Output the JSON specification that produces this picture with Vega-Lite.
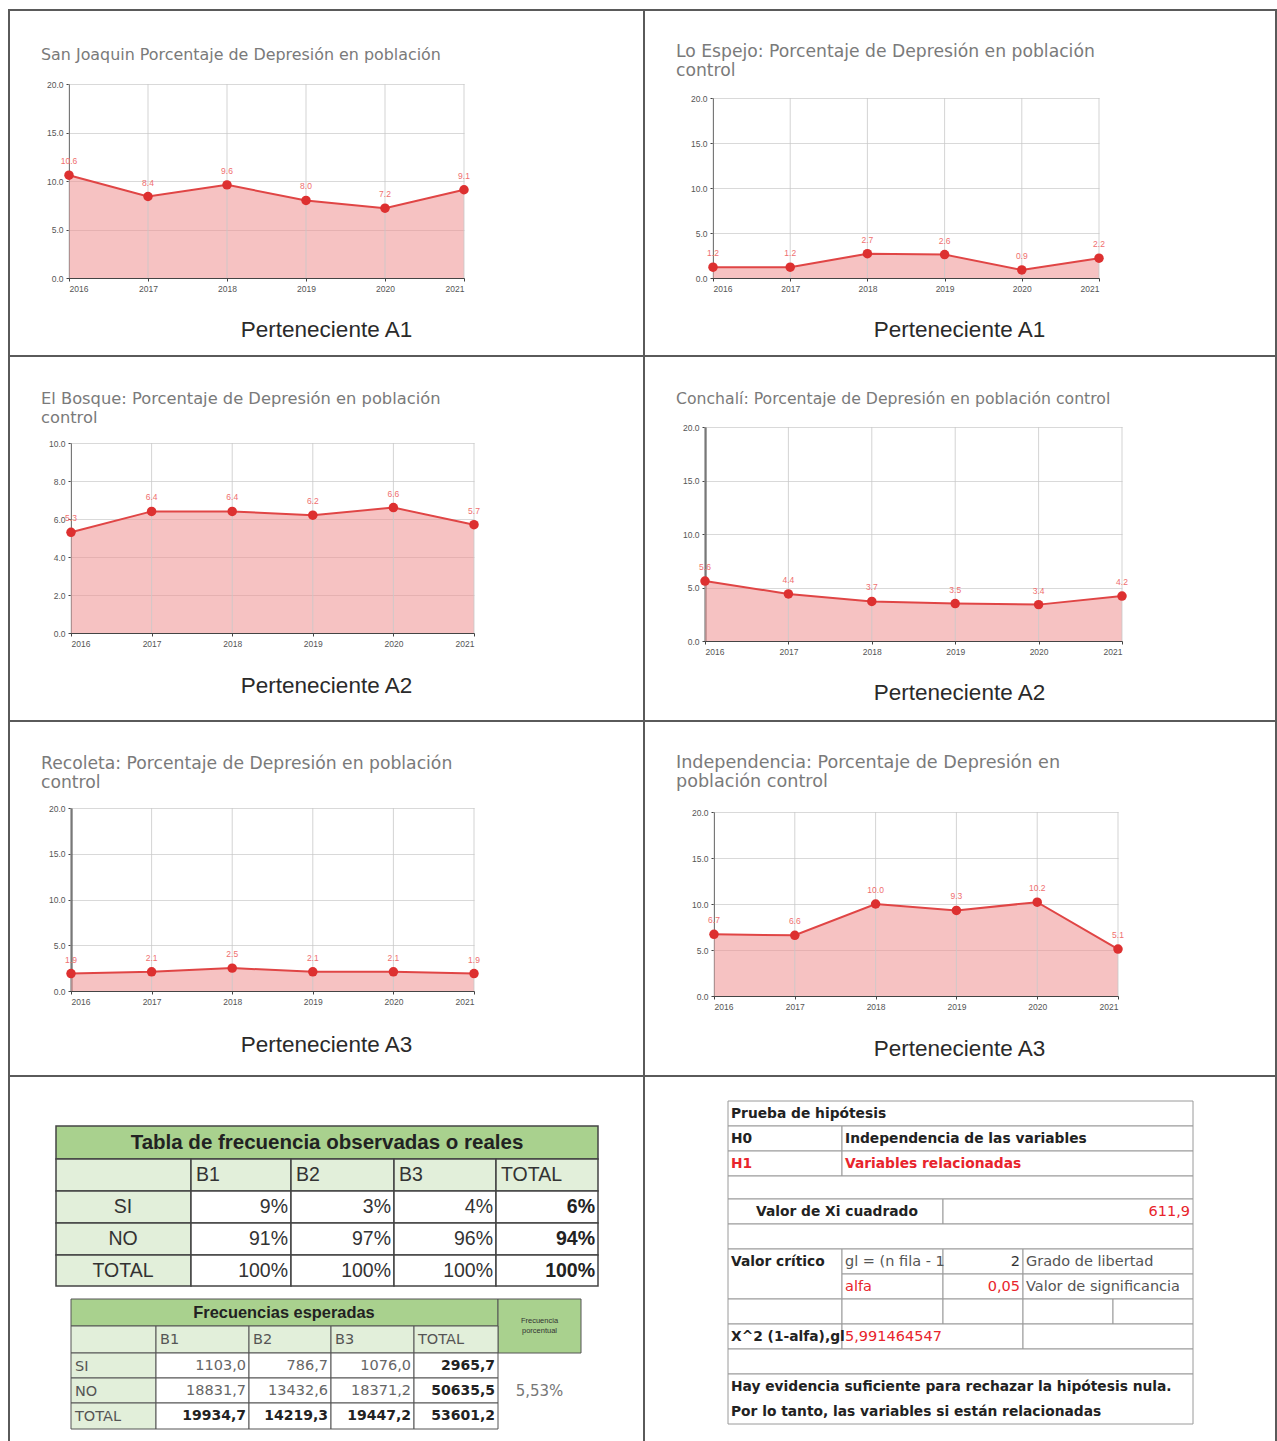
{
  "$schema": "https://vega.github.io/schema/vega-lite/v6.json",
  "background": "white",
  "padding": {"left": 8, "top": 9, "right": 0, "bottom": 0},
  "spacing": 0,
  "bounds": "flush",
  "columns": 2,
  "config": {
    "view": {"stroke": "#5a5a5a", "strokeWidth": 2},
    "axis": {"labelFont": "Liberation Sans", "labelFontSize": 8.5, "labelColor": "#555", "domainColor": "#444", "tickColor": "#444", "tickSize": 3, "gridColor": "#d9d9d9", "titleFont": "Liberation Sans"},
    "axisX": {"grid": false, "titleFontSize": 22.5, "titleFontWeight": "normal", "titleColor": "#2a2a2a", "titleAlign": "center", "titleBaseline": "middle", "labelPadding": 3},
    "axisY": {"grid": true, "labelPadding": 3},
    "title": {"font": "DejaVu Sans", "fontSize": 15.5, "fontWeight": "normal", "color": "#7a7a7a", "anchor": "start", "frame": "group", "lineHeight": 19}
  },
  "concat": [
    {
      "width": 635, "height": 346,
      "title": {"text": "San Joaquin Porcentaje de Depresión en población", "offset": -53, "dx": 32, "fontSize": 15.9},
      "data": {"values": [{"year": 2016, "pct": 10.6}, {"year": 2017, "pct": 8.4}, {"year": 2018, "pct": 9.6}, {"year": 2019, "pct": 8.0}, {"year": 2020, "pct": 7.2}, {"year": 2021, "pct": 9.1}]},
      "encoding": {
        "x": {"field": "year", "type": "quantitative", "scale": {"domain": [2016, 2021], "range": [60, 455], "nice": false, "zero": false},
              "axis": {"values": [2016, 2017, 2018, 2019, 2020, 2021], "format": "d", "offset": -78, "title": "Perteneciente A1", "titleX": 317, "titleY": 51}},
        "y": {"field": "pct", "type": "quantitative", "scale": {"domain": [0, 20], "range": [268, 74], "nice": false, "zero": false},
              "axis": {"values": [0, 5, 10, 15, 20], "format": ".1f", "offset": -60, "title": null}}
      },
      "layer": [
        {"mark": {"type": "area", "color": "#ef8f8f", "opacity": 0.55}},
        {"mark": {"type": "rule", "color": "#c8c8c8", "opacity": 0.8}, "encoding": {"y": {"datum": 0}, "y2": {"datum": 20}}},
        {"mark": {"type": "line", "color": "#e04545", "strokeWidth": 2}},
        {"mark": {"type": "point", "filled": true, "size": 90, "color": "#dd3030", "opacity": 1}},
        {"mark": {"type": "text", "dy": -14, "fontSize": 8.5, "color": "#ef6f6f", "font": "Liberation Sans"}, "encoding": {"text": {"field": "pct", "format": ".1f"}}}
      ]
    },
    {
      "width": 632, "height": 346,
      "title": {"text": ["Lo Espejo: Porcentaje de Depresión en población", "control"], "offset": -69, "dx": 32, "fontSize": 17.2},
      "data": {"values": [{"year": 2016, "pct": 1.2}, {"year": 2017, "pct": 1.2}, {"year": 2018, "pct": 2.7}, {"year": 2019, "pct": 2.6}, {"year": 2020, "pct": 0.9}, {"year": 2021, "pct": 2.2}]},
      "encoding": {
        "x": {"field": "year", "type": "quantitative", "scale": {"domain": [2016, 2021], "range": [69, 455], "nice": false, "zero": false},
              "axis": {"values": [2016, 2017, 2018, 2019, 2020, 2021], "format": "d", "offset": -78, "title": "Perteneciente A1", "titleX": 315, "titleY": 51}},
        "y": {"field": "pct", "type": "quantitative", "scale": {"domain": [0, 20], "range": [268, 88], "nice": false, "zero": false},
              "axis": {"values": [0, 5, 10, 15, 20], "format": ".1f", "offset": -69, "title": null}}
      },
      "layer": [
        {"mark": {"type": "area", "color": "#ef8f8f", "opacity": 0.55}},
        {"mark": {"type": "rule", "color": "#c8c8c8", "opacity": 0.8}, "encoding": {"y": {"datum": 0}, "y2": {"datum": 20}}},
        {"mark": {"type": "line", "color": "#e04545", "strokeWidth": 2}},
        {"mark": {"type": "point", "filled": true, "size": 90, "color": "#dd3030", "opacity": 1}},
        {"mark": {"type": "text", "dy": -14, "fontSize": 8.5, "color": "#ef6f6f", "font": "Liberation Sans"}, "encoding": {"text": {"field": "pct", "format": ".1f"}}}
      ]
    },
    {
      "width": 635, "height": 365,
      "title": {"text": ["El Bosque: Porcentaje de Depresión en población", "control"], "offset": -70, "dx": 32, "fontSize": 16.3},
      "data": {"values": [{"year": 2016, "pct": 5.3}, {"year": 2017, "pct": 6.4}, {"year": 2018, "pct": 6.4}, {"year": 2019, "pct": 6.2}, {"year": 2020, "pct": 6.6}, {"year": 2021, "pct": 5.7}]},
      "encoding": {
        "x": {"field": "year", "type": "quantitative", "scale": {"domain": [2016, 2021], "range": [62, 465], "nice": false, "zero": false},
              "axis": {"values": [2016, 2017, 2018, 2019, 2020, 2021], "format": "d", "offset": -88, "title": "Perteneciente A2", "titleX": 317, "titleY": 52}},
        "y": {"field": "pct", "type": "quantitative", "scale": {"domain": [0, 10], "range": [277, 87], "nice": false, "zero": false},
              "axis": {"values": [0, 2, 4, 6, 8, 10], "format": ".1f", "offset": -62, "title": null}}
      },
      "layer": [
        {"mark": {"type": "area", "color": "#ef8f8f", "opacity": 0.55}},
        {"mark": {"type": "rule", "color": "#c8c8c8", "opacity": 0.8}, "encoding": {"y": {"datum": 0}, "y2": {"datum": 10}}},
        {"mark": {"type": "line", "color": "#e04545", "strokeWidth": 2}},
        {"mark": {"type": "point", "filled": true, "size": 90, "color": "#dd3030", "opacity": 1}},
        {"mark": {"type": "text", "dy": -14, "fontSize": 8.5, "color": "#ef6f6f", "font": "Liberation Sans"}, "encoding": {"text": {"field": "pct", "format": ".1f"}}}
      ]
    },
    {
      "width": 632, "height": 365,
      "title": {"text": "Conchalí: Porcentaje de Depresión en población control", "offset": -52, "dx": 32, "fontSize": 15.7},
      "data": {"values": [{"year": 2016, "pct": 5.6}, {"year": 2017, "pct": 4.4}, {"year": 2018, "pct": 3.7}, {"year": 2019, "pct": 3.5}, {"year": 2020, "pct": 3.4}, {"year": 2021, "pct": 4.2}]},
      "encoding": {
        "x": {"field": "year", "type": "quantitative", "scale": {"domain": [2016, 2021], "range": [61, 478], "nice": false, "zero": false},
              "axis": {"values": [2016, 2017, 2018, 2019, 2020, 2021], "format": "d", "offset": -80, "title": "Perteneciente A2", "titleX": 315, "titleY": 51}},
        "y": {"field": "pct", "type": "quantitative", "scale": {"domain": [0, 20], "range": [285, 71], "nice": false, "zero": false},
              "axis": {"values": [0, 5, 10, 15, 20], "format": ".1f", "offset": -61, "title": null, "domainWidth": 2}}
      },
      "layer": [
        {"mark": {"type": "area", "color": "#ef8f8f", "opacity": 0.55}},
        {"mark": {"type": "rule", "color": "#c8c8c8", "opacity": 0.8}, "encoding": {"y": {"datum": 0}, "y2": {"datum": 20}}},
        {"mark": {"type": "line", "color": "#e04545", "strokeWidth": 2}},
        {"mark": {"type": "point", "filled": true, "size": 90, "color": "#dd3030", "opacity": 1}},
        {"mark": {"type": "text", "dy": -14, "fontSize": 8.5, "color": "#ef6f6f", "font": "Liberation Sans"}, "encoding": {"text": {"field": "pct", "format": ".1f"}}}
      ]
    },
    {
      "width": 635, "height": 355,
      "title": {"text": ["Recoleta: Porcentaje de Depresión en población", "control"], "offset": -70, "dx": 32, "fontSize": 17.2},
      "data": {"values": [{"year": 2016, "pct": 1.9}, {"year": 2017, "pct": 2.1}, {"year": 2018, "pct": 2.5}, {"year": 2019, "pct": 2.1}, {"year": 2020, "pct": 2.1}, {"year": 2021, "pct": 1.9}]},
      "encoding": {
        "x": {"field": "year", "type": "quantitative", "scale": {"domain": [2016, 2021], "range": [62, 465], "nice": false, "zero": false},
              "axis": {"values": [2016, 2017, 2018, 2019, 2020, 2021], "format": "d", "offset": -85, "title": "Perteneciente A3", "titleX": 317, "titleY": 53}},
        "y": {"field": "pct", "type": "quantitative", "scale": {"domain": [0, 20], "range": [270, 87], "nice": false, "zero": false},
              "axis": {"values": [0, 5, 10, 15, 20], "format": ".1f", "offset": -62, "title": null, "domainWidth": 2}}
      },
      "layer": [
        {"mark": {"type": "area", "color": "#ef8f8f", "opacity": 0.55}},
        {"mark": {"type": "rule", "color": "#c8c8c8", "opacity": 0.8}, "encoding": {"y": {"datum": 0}, "y2": {"datum": 20}}},
        {"mark": {"type": "line", "color": "#e04545", "strokeWidth": 2}},
        {"mark": {"type": "point", "filled": true, "size": 90, "color": "#dd3030", "opacity": 1}},
        {"mark": {"type": "text", "dy": -14, "fontSize": 8.5, "color": "#ef6f6f", "font": "Liberation Sans"}, "encoding": {"text": {"field": "pct", "format": ".1f"}}}
      ]
    },
    {
      "width": 632, "height": 355,
      "title": {"text": ["Independencia: Porcentaje de Depresión en", "población control"], "offset": -70, "dx": 32, "fontSize": 17.6},
      "data": {"values": [{"year": 2016, "pct": 6.7}, {"year": 2017, "pct": 6.6}, {"year": 2018, "pct": 10.0}, {"year": 2019, "pct": 9.3}, {"year": 2020, "pct": 10.2}, {"year": 2021, "pct": 5.1}]},
      "encoding": {
        "x": {"field": "year", "type": "quantitative", "scale": {"domain": [2016, 2021], "range": [70, 474], "nice": false, "zero": false},
              "axis": {"values": [2016, 2017, 2018, 2019, 2020, 2021], "format": "d", "offset": -80, "title": "Perteneciente A3", "titleX": 315, "titleY": 52}},
        "y": {"field": "pct", "type": "quantitative", "scale": {"domain": [0, 20], "range": [275, 91], "nice": false, "zero": false},
              "axis": {"values": [0, 5, 10, 15, 20], "format": ".1f", "offset": -70, "title": null}}
      },
      "layer": [
        {"mark": {"type": "area", "color": "#ef8f8f", "opacity": 0.55}},
        {"mark": {"type": "rule", "color": "#c8c8c8", "opacity": 0.8}, "encoding": {"y": {"datum": 0}, "y2": {"datum": 20}}},
        {"mark": {"type": "line", "color": "#e04545", "strokeWidth": 2}},
        {"mark": {"type": "point", "filled": true, "size": 90, "color": "#dd3030", "opacity": 1}},
        {"mark": {"type": "text", "dy": -14, "fontSize": 8.5, "color": "#ef6f6f", "font": "Liberation Sans"}, "encoding": {"text": {"field": "pct", "format": ".1f"}}}
      ]
    },
    {
      "width": 635, "height": 370,
      "resolve": {"scale": {"x": "independent", "y": "independent"}},
      "layer": [
        {
          "data": {"values": [
            {"r0": 0, "r1": 1, "c0": 0, "c1": 5, "text": "Tabla de frecuencia observadas o reales", "kind": "title"},
            {"r0": 1, "r1": 2, "c0": 0, "c1": 1, "text": "", "kind": "colhead"},
            {"r0": 1, "r1": 2, "c0": 1, "c1": 2, "text": "B1", "kind": "colhead"},
            {"r0": 1, "r1": 2, "c0": 2, "c1": 3, "text": "B2", "kind": "colhead"},
            {"r0": 1, "r1": 2, "c0": 3, "c1": 4, "text": "B3", "kind": "colhead"},
            {"r0": 1, "r1": 2, "c0": 4, "c1": 5, "text": "TOTAL", "kind": "colhead"},
            {"r0": 2, "r1": 3, "c0": 0, "c1": 1, "text": "SI", "kind": "rowhead"},
            {"r0": 2, "r1": 3, "c0": 1, "c1": 2, "text": "9%", "kind": "value"},
            {"r0": 2, "r1": 3, "c0": 2, "c1": 3, "text": "3%", "kind": "value"},
            {"r0": 2, "r1": 3, "c0": 3, "c1": 4, "text": "4%", "kind": "value"},
            {"r0": 2, "r1": 3, "c0": 4, "c1": 5, "text": "6%", "kind": "total"},
            {"r0": 3, "r1": 4, "c0": 0, "c1": 1, "text": "NO", "kind": "rowhead"},
            {"r0": 3, "r1": 4, "c0": 1, "c1": 2, "text": "91%", "kind": "value"},
            {"r0": 3, "r1": 4, "c0": 2, "c1": 3, "text": "97%", "kind": "value"},
            {"r0": 3, "r1": 4, "c0": 3, "c1": 4, "text": "96%", "kind": "value"},
            {"r0": 3, "r1": 4, "c0": 4, "c1": 5, "text": "94%", "kind": "total"},
            {"r0": 4, "r1": 5, "c0": 0, "c1": 1, "text": "TOTAL", "kind": "rowhead"},
            {"r0": 4, "r1": 5, "c0": 1, "c1": 2, "text": "100%", "kind": "value"},
            {"r0": 4, "r1": 5, "c0": 2, "c1": 3, "text": "100%", "kind": "value"},
            {"r0": 4, "r1": 5, "c0": 3, "c1": 4, "text": "100%", "kind": "value"},
            {"r0": 4, "r1": 5, "c0": 4, "c1": 5, "text": "100%", "kind": "total"}
          ]},
          "encoding": {
            "x": {"field": "c0", "type": "quantitative", "scale": {"domain": [0, 1, 2, 3, 4, 5], "range": [47, 182, 282, 385, 487, 589], "nice": false, "zero": false}, "axis": null},
            "y": {"field": "r0", "type": "quantitative", "scale": {"domain": [0, 1, 2, 3, 4, 5], "range": [50, 83, 115, 147, 179, 210], "nice": false, "zero": false}, "axis": null}
          },
          "layer": [
            {"transform": [{"filter": {"field": "kind", "equal": "title"}}], "mark": {"type": "rect", "fill": "#a9d18e", "stroke": "#444", "strokeWidth": 1.5}, "encoding": {"x2": {"field": "c1"}, "y2": {"field": "r1"}}},
            {"transform": [{"filter": {"field": "kind", "oneOf": ["colhead", "rowhead"]}}], "mark": {"type": "rect", "fill": "#e2efda", "stroke": "#444", "strokeWidth": 1.5}, "encoding": {"x2": {"field": "c1"}, "y2": {"field": "r1"}}},
            {"transform": [{"filter": {"field": "kind", "oneOf": ["value", "total"]}}], "mark": {"type": "rect", "fill": "#ffffff", "stroke": "#444", "strokeWidth": 1.5}, "encoding": {"x2": {"field": "c1"}, "y2": {"field": "r1"}}},
            {"transform": [{"filter": {"field": "kind", "equal": "title"}}], "mark": {"type": "text", "align": "center", "baseline": "middle", "dx": 271, "dy": 16.5, "fontSize": 20.5, "fontWeight": "bold", "font": "Liberation Sans", "color": "#222"}, "encoding": {"text": {"field": "text"}}},
            {"transform": [{"filter": {"field": "kind", "equal": "colhead"}}], "mark": {"type": "text", "align": "left", "baseline": "middle", "dx": 5, "dy": 16, "fontSize": 19.5, "font": "Liberation Sans", "color": "#333"}, "encoding": {"text": {"field": "text"}}},
            {"transform": [{"filter": {"field": "kind", "equal": "rowhead"}}], "mark": {"type": "text", "align": "center", "baseline": "middle", "dx": 67, "dy": 16, "fontSize": 19.5, "font": "Liberation Sans", "color": "#333"}, "encoding": {"text": {"field": "text"}}},
            {"transform": [{"filter": {"field": "kind", "equal": "value"}}], "mark": {"type": "text", "align": "right", "baseline": "middle", "dx": -3, "dy": 16, "fontSize": 19.5, "font": "Liberation Sans", "color": "#333"}, "encoding": {"x": {"field": "c1", "type": "quantitative"}, "text": {"field": "text"}}},
            {"transform": [{"filter": {"field": "kind", "equal": "total"}}], "mark": {"type": "text", "align": "right", "baseline": "middle", "dx": -3, "dy": 16, "fontSize": 19.5, "fontWeight": "bold", "font": "Liberation Sans", "color": "#222"}, "encoding": {"x": {"field": "c1", "type": "quantitative"}, "text": {"field": "text"}}}
          ]
        },
        {
          "data": {"values": [
            {"r0": 0, "r1": 1, "c0": 0, "c1": 5, "text": "Frecuencias esperadas", "kind": "title"},
            {"r0": 0, "r1": 2, "c0": 5, "c1": 6, "text": "Frecuencia\nporcentual", "kind": "pcthead"},
            {"r0": 1, "r1": 2, "c0": 0, "c1": 1, "text": "", "kind": "colhead"},
            {"r0": 1, "r1": 2, "c0": 1, "c1": 2, "text": "B1", "kind": "colhead"},
            {"r0": 1, "r1": 2, "c0": 2, "c1": 3, "text": "B2", "kind": "colhead"},
            {"r0": 1, "r1": 2, "c0": 3, "c1": 4, "text": "B3", "kind": "colhead"},
            {"r0": 1, "r1": 2, "c0": 4, "c1": 5, "text": "TOTAL", "kind": "colhead"},
            {"r0": 2, "r1": 3, "c0": 0, "c1": 1, "text": "SI", "kind": "rowhead"},
            {"r0": 2, "r1": 3, "c0": 1, "c1": 2, "text": "1103,0", "kind": "value"},
            {"r0": 2, "r1": 3, "c0": 2, "c1": 3, "text": "786,7", "kind": "value"},
            {"r0": 2, "r1": 3, "c0": 3, "c1": 4, "text": "1076,0", "kind": "value"},
            {"r0": 2, "r1": 3, "c0": 4, "c1": 5, "text": "2965,7", "kind": "total"},
            {"r0": 3, "r1": 4, "c0": 0, "c1": 1, "text": "NO", "kind": "rowhead"},
            {"r0": 3, "r1": 4, "c0": 1, "c1": 2, "text": "18831,7", "kind": "value"},
            {"r0": 3, "r1": 4, "c0": 2, "c1": 3, "text": "13432,6", "kind": "value"},
            {"r0": 3, "r1": 4, "c0": 3, "c1": 4, "text": "18371,2", "kind": "value"},
            {"r0": 3, "r1": 4, "c0": 4, "c1": 5, "text": "50635,5", "kind": "total"},
            {"r0": 4, "r1": 5, "c0": 0, "c1": 1, "text": "TOTAL", "kind": "rowhead"},
            {"r0": 4, "r1": 5, "c0": 1, "c1": 2, "text": "19934,7", "kind": "total"},
            {"r0": 4, "r1": 5, "c0": 2, "c1": 3, "text": "14219,3", "kind": "total"},
            {"r0": 4, "r1": 5, "c0": 3, "c1": 4, "text": "19447,2", "kind": "total"},
            {"r0": 4, "r1": 5, "c0": 4, "c1": 5, "text": "53601,2", "kind": "total"},
            {"r0": 2, "r1": 5, "c0": 5, "c1": 6, "text": "5,53%", "kind": "pct"}
          ]},
          "encoding": {
            "x": {"field": "c0", "type": "quantitative", "scale": {"domain": [0, 1, 2, 3, 4, 5, 6], "range": [62, 147, 240, 322, 405, 489, 572], "nice": false, "zero": false}, "axis": null},
            "y": {"field": "r0", "type": "quantitative", "scale": {"domain": [0, 1, 2, 3, 4, 5], "range": [223, 250, 277, 302, 327, 353], "nice": false, "zero": false}, "axis": null}
          },
          "layer": [
            {"transform": [{"filter": {"field": "kind", "oneOf": ["title", "pcthead"]}}], "mark": {"type": "rect", "fill": "#a9d18e", "stroke": "#555", "strokeWidth": 1}, "encoding": {"x2": {"field": "c1"}, "y2": {"field": "r1"}}},
            {"transform": [{"filter": {"field": "kind", "oneOf": ["colhead", "rowhead"]}}], "mark": {"type": "rect", "fill": "#e2efda", "stroke": "#555", "strokeWidth": 1}, "encoding": {"x2": {"field": "c1"}, "y2": {"field": "r1"}}},
            {"transform": [{"filter": {"field": "kind", "oneOf": ["value", "total"]}}], "mark": {"type": "rect", "fill": "#ffffff", "stroke": "#555", "strokeWidth": 1}, "encoding": {"x2": {"field": "c1"}, "y2": {"field": "r1"}}},
            {"transform": [{"filter": {"field": "kind", "equal": "title"}}], "mark": {"type": "text", "align": "center", "baseline": "middle", "dx": 213, "dy": 13.5, "fontSize": 16.4, "fontWeight": "bold", "font": "Liberation Sans", "color": "#222"}, "encoding": {"text": {"field": "text"}}},
            {"transform": [{"filter": {"field": "kind", "equal": "pcthead"}}], "mark": {"type": "text", "align": "center", "baseline": "middle", "dx": 41.5, "dy": 22, "fontSize": 7.5, "lineBreak": "\n", "lineHeight": 10, "font": "Liberation Sans", "color": "#333"}, "encoding": {"text": {"field": "text"}}},
            {"transform": [{"filter": {"field": "kind", "oneOf": ["colhead", "rowhead"]}}], "mark": {"type": "text", "align": "left", "baseline": "middle", "dx": 4, "dy": 13.5, "fontSize": 14.5, "font": "DejaVu Sans", "color": "#555"}, "encoding": {"text": {"field": "text"}}},
            {"transform": [{"filter": {"field": "kind", "equal": "value"}}], "mark": {"type": "text", "align": "right", "baseline": "middle", "dx": -3, "dy": 13, "fontSize": 14.5, "font": "DejaVu Sans", "color": "#666"}, "encoding": {"x": {"field": "c1", "type": "quantitative"}, "text": {"field": "text"}}},
            {"transform": [{"filter": {"field": "kind", "equal": "total"}}], "mark": {"type": "text", "align": "right", "baseline": "middle", "dx": -3, "dy": 13, "fontSize": 14, "fontWeight": "bold", "font": "DejaVu Sans", "color": "#222"}, "encoding": {"x": {"field": "c1", "type": "quantitative"}, "text": {"field": "text"}}},
            {"transform": [{"filter": {"field": "kind", "equal": "pct"}}], "mark": {"type": "text", "align": "center", "baseline": "middle", "dx": 41.5, "dy": 38, "fontSize": 15, "font": "DejaVu Sans", "color": "#777"}, "encoding": {"text": {"field": "text"}}}
          ]
        }
      ]
    },
    {
      "width": 632, "height": 370,
      "data": {"values": [
        {"r0": 0, "r1": 1, "c0": 0, "c1": 5, "text": "Prueba de hipótesis", "kind": "heading"},
        {"r0": 1, "r1": 2, "c0": 0, "c1": 1, "text": "H0", "kind": "label"},
        {"r0": 1, "r1": 2, "c0": 1, "c1": 5, "text": "Independencia de las variables", "kind": "label"},
        {"r0": 2, "r1": 3, "c0": 0, "c1": 1, "text": "H1", "kind": "alt"},
        {"r0": 2, "r1": 3, "c0": 1, "c1": 5, "text": "Variables relacionadas", "kind": "alt"},
        {"r0": 3, "r1": 4, "c0": 0, "c1": 5, "text": "", "kind": "blank"},
        {"r0": 4, "r1": 5, "c0": 0, "c1": 2, "text": "Valor de Xi cuadrado", "kind": "statlabel"},
        {"r0": 4, "r1": 5, "c0": 2, "c1": 5, "text": "611,9", "kind": "statvalue"},
        {"r0": 5, "r1": 6, "c0": 0, "c1": 5, "text": "", "kind": "blank"},
        {"r0": 6, "r1": 8, "c0": 0, "c1": 1, "text": "Valor crítico", "kind": "label"},
        {"r0": 6, "r1": 7, "c0": 1, "c1": 2, "text": "gl = (n fila - 1", "kind": "param"},
        {"r0": 6, "r1": 7, "c0": 2, "c1": 3, "text": "2", "kind": "num"},
        {"r0": 6, "r1": 7, "c0": 3, "c1": 5, "text": "Grado de libertad", "kind": "param"},
        {"r0": 7, "r1": 8, "c0": 1, "c1": 2, "text": "alfa", "kind": "alpha"},
        {"r0": 7, "r1": 8, "c0": 2, "c1": 3, "text": "0,05", "kind": "alphavalue"},
        {"r0": 7, "r1": 8, "c0": 3, "c1": 5, "text": "Valor de significancia", "kind": "param"},
        {"r0": 8, "r1": 9, "c0": 0, "c1": 1, "text": "", "kind": "blank"},
        {"r0": 8, "r1": 9, "c0": 1, "c1": 2, "text": "", "kind": "blank"},
        {"r0": 8, "r1": 9, "c0": 2, "c1": 3, "text": "", "kind": "blank"},
        {"r0": 8, "r1": 9, "c0": 3, "c1": 4, "text": "", "kind": "blank"},
        {"r0": 8, "r1": 9, "c0": 4, "c1": 5, "text": "", "kind": "blank"},
        {"r0": 9, "r1": 10, "c0": 0, "c1": 1, "text": "X^2 (1-alfa),gl", "kind": "label"},
        {"r0": 9, "r1": 10, "c0": 1, "c1": 3, "text": "5,991464547", "kind": "critical"},
        {"r0": 9, "r1": 10, "c0": 3, "c1": 5, "text": "", "kind": "blank"},
        {"r0": 10, "r1": 11, "c0": 0, "c1": 5, "text": "", "kind": "blank"},
        {"r0": 11, "r1": 13, "c0": 0, "c1": 5, "text": "Hay evidencia suficiente para rechazar la hipótesis nula.", "kind": "conclusion"},
        {"r0": 12, "r1": 13, "c0": 0, "c1": 5, "text": "Por lo tanto, las variables si están relacionadas", "kind": "conclusion_cont"}
      ]},
      "encoding": {
        "x": {"field": "c0", "type": "quantitative", "scale": {"domain": [0, 1, 2, 3, 4, 5], "range": [84, 198, 299, 379, 469, 549], "nice": false, "zero": false}, "axis": null},
        "y": {"field": "r0", "type": "quantitative", "scale": {"domain": [0, 1, 2, 3, 4, 5, 6, 7, 8, 9, 10, 11, 12, 13], "range": [25, 50, 75, 100, 123, 148, 173, 198, 223, 248, 273, 298, 323, 348], "nice": false, "zero": false}, "axis": null}
      },
      "layer": [
        {"transform": [{"filter": {"not": {"field": "kind", "equal": "conclusion_cont"}}}], "mark": {"type": "rect", "fill": "#ffffff", "stroke": "#9a9a9a", "strokeWidth": 1}, "encoding": {"x2": {"field": "c1"}, "y2": {"field": "r1"}}},
        {"transform": [{"filter": {"field": "kind", "oneOf": ["heading", "label", "conclusion", "conclusion_cont"]}}], "mark": {"type": "text", "align": "left", "baseline": "middle", "dx": 3, "dy": 12.5, "fontSize": 13.8, "fontWeight": "bold", "font": "DejaVu Sans", "color": "#222"}, "encoding": {"text": {"field": "text"}}},
        {"transform": [{"filter": {"field": "kind", "equal": "statlabel"}}], "mark": {"type": "text", "align": "left", "baseline": "middle", "dx": 28, "dy": 12.5, "fontSize": 13.8, "fontWeight": "bold", "font": "DejaVu Sans", "color": "#222"}, "encoding": {"text": {"field": "text"}}},
        {"transform": [{"filter": {"field": "kind", "equal": "alt"}}], "mark": {"type": "text", "align": "left", "baseline": "middle", "dx": 3, "dy": 12.5, "fontSize": 13.8, "fontWeight": "bold", "font": "DejaVu Sans", "color": "#e8242c"}, "encoding": {"text": {"field": "text"}}},
        {"transform": [{"filter": {"field": "kind", "oneOf": ["alpha", "critical"]}}], "mark": {"type": "text", "align": "left", "baseline": "middle", "dx": 3, "dy": 12.5, "fontSize": 14.5, "font": "DejaVu Sans", "color": "#e8242c"}, "encoding": {"text": {"field": "text"}}},
        {"transform": [{"filter": {"field": "kind", "equal": "param"}}], "mark": {"type": "text", "align": "left", "baseline": "middle", "dx": 3, "dy": 12.5, "fontSize": 14.5, "font": "DejaVu Sans", "color": "#555"}, "encoding": {"text": {"field": "text"}}},
        {"transform": [{"filter": {"field": "kind", "oneOf": ["statvalue", "alphavalue"]}}], "mark": {"type": "text", "align": "right", "baseline": "middle", "dx": -3, "dy": 12.5, "fontSize": 14.5, "font": "DejaVu Sans", "color": "#e8242c"}, "encoding": {"x": {"field": "c1", "type": "quantitative"}, "text": {"field": "text"}}},
        {"transform": [{"filter": {"field": "kind", "equal": "num"}}], "mark": {"type": "text", "align": "right", "baseline": "middle", "dx": -3, "dy": 12.5, "fontSize": 14.5, "font": "DejaVu Sans", "color": "#333"}, "encoding": {"x": {"field": "c1", "type": "quantitative"}, "text": {"field": "text"}}}
      ]
    }
  ]
}
